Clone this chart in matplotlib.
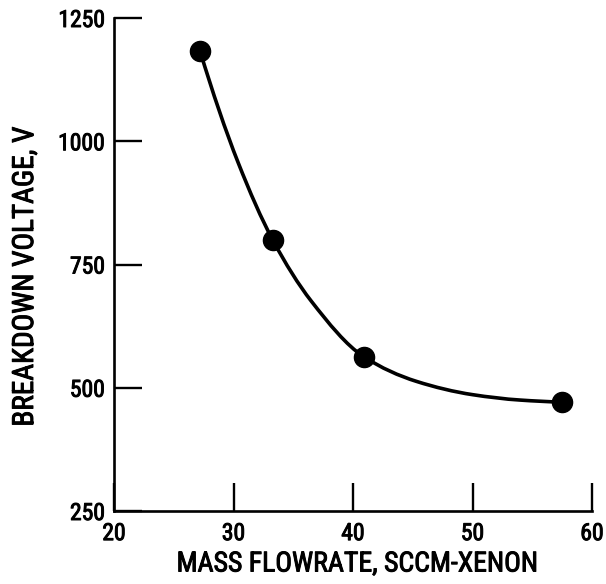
import matplotlib
matplotlib.use("Agg")
import matplotlib.pyplot as plt
import matplotlib.patheffects as pe
from matplotlib.path import Path
from matplotlib.patches import PathPatch
import numpy as np

# measured points
flow = [27.2, 33.3, 40.9, 57.5]
voltage = [1183, 799, 563, 471]

# knots of the faired curve
curve_flow = [27.2, 30.4, 33.3, 36.5, 40.9, 45.3, 50.0, 54.0, 57.5]
curve_voltage = [1183, 956, 799, 676, 563, 513, 486, 475, 471]

x_ticks = [20, 30, 40, 50, 60]
y_ticks = [250, 500, 750, 1000, 1250]

FONT = ["Roboto Condensed", "Liberation Sans Narrow", "Archivo Narrow",
        "PT Sans Narrow", "DejaVu Sans"]
# regular weight thickened a little, the scan is heavier than regular
THICK = [pe.withStroke(linewidth=0.7, foreground="black")]


def pchip_slopes(x, y):
    h = np.diff(x)
    d = np.diff(y) / h
    m = np.zeros_like(y)
    for i in range(1, len(x) - 1):
        if d[i - 1] * d[i] > 0:
            w1 = 2 * h[i] + h[i - 1]
            w2 = h[i] + 2 * h[i - 1]
            m[i] = (w1 + w2) / (w1 / d[i - 1] + w2 / d[i])
    m[0] = ((2 * h[0] + h[1]) * d[0] - h[0] * d[1]) / (h[0] + h[1])
    m[-1] = ((2 * h[-1] + h[-2]) * d[-1] - h[-1] * d[-2]) / (h[-1] + h[-2])
    return m


def smooth_path(xs, ys):
    # hermite curve through the knots, handed to matplotlib as cubic beziers
    x = np.asarray(xs, float)
    y = np.asarray(ys, float)
    m = pchip_slopes(x, y)
    verts = [(x[0], y[0])]
    codes = [Path.MOVETO]
    for i in range(len(x) - 1):
        dx = (x[i + 1] - x[i]) / 3
        verts += [(x[i] + dx, y[i] + m[i] * dx),
                  (x[i + 1] - dx, y[i + 1] - m[i + 1] * dx),
                  (x[i + 1], y[i + 1])]
        codes += [Path.CURVE4] * 3
    return Path(verts, codes)


fig = plt.figure(figsize=(6.06, 5.84), dpi=100)
ax = fig.add_axes([114 / 606, 73 / 584, 478 / 606, 493 / 584])

ax.add_patch(PathPatch(smooth_path(curve_flow, curve_voltage), fill=False,
                       edgecolor="black", linewidth=2.6, capstyle="round"))
ax.plot(flow, voltage, "o", color="black", markersize=14.5, zorder=3)

ax.set_xlim(20, 60)
ax.set_ylim(250, 1250)
ax.set_xticks(x_ticks)
ax.set_yticks(y_ticks)

for side in ("top", "right"):
    ax.spines[side].set_visible(False)
for side in ("left", "bottom"):
    ax.spines[side].set_linewidth(1.9)

ax.tick_params(direction="in", length=20.5, width=1.7)
ax.tick_params(axis="x", pad=8)
ax.tick_params(axis="y", pad=6.5)
for lab in ax.get_xticklabels() + ax.get_yticklabels():
    lab.set_family(FONT)
    lab.set_fontsize(17)
    lab.set_path_effects(THICK)

fig.text(357 / 606, 1 - 564 / 584, "MASS FLOWRATE, SCCM-XENON", family=FONT,
         fontsize=20, ha="center", va="center", path_effects=THICK)
fig.text(25 / 606, 1 - 277 / 584, "BREAKDOWN VOLTAGE, V", family=FONT,
         fontsize=21, ha="center", va="center", rotation=90,
         path_effects=THICK)

fig.savefig("out.png", dpi=100)
